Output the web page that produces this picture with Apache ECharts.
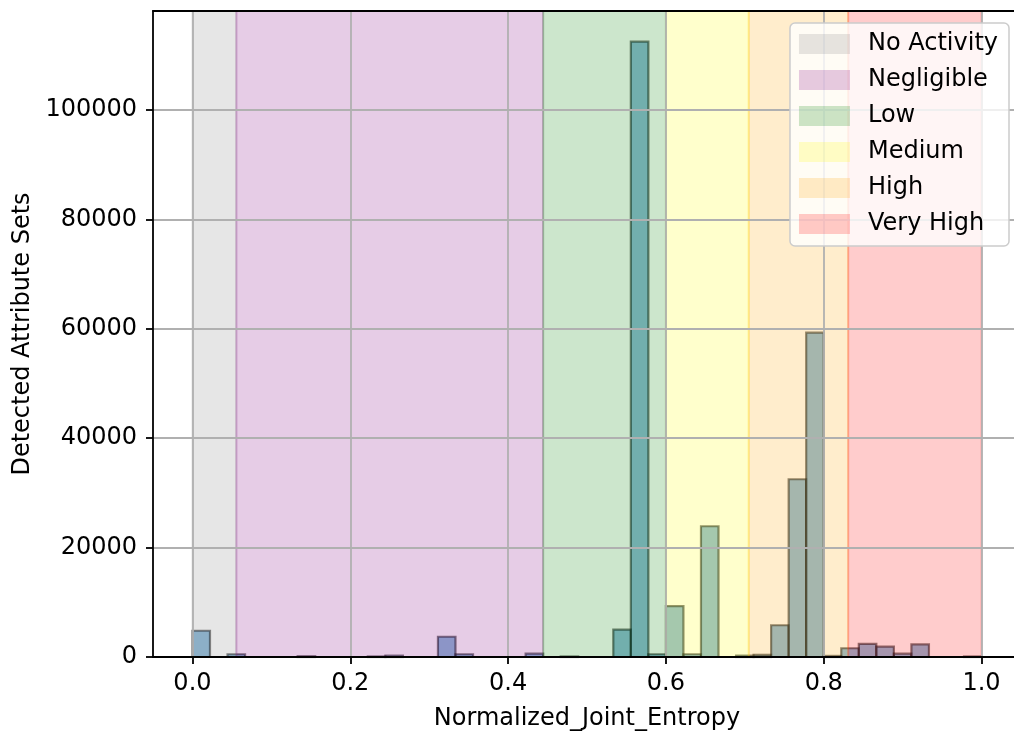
<!DOCTYPE html>
<html>
<head>
<meta charset="utf-8">
<script src="https://cdn.jsdelivr.net/npm/echarts@6/dist/echarts.min.js"></script>
<style>html,body{margin:0;padding:0;background:#fff}#c{width:1014px;height:732px}</style>
</head>
<body>
<div id="c"></div>
<script>
// ---- data ----
const binStart = 0;
const binEnd = 1;
const binCounts = [
  4800, 0, 500, 0, 0, 0, 150, 0, 0, 0,
  100, 250, 0, 0, 3700, 500, 0, 0, 0, 600,
  0, 100, 0, 0, 5000, 112500, 500, 9300, 500, 23900,
  0, 250, 400, 5800, 32500, 59300, 200, 1600, 2400, 1900,
  600, 2300, 0, 0, 100
];
const bandNames = ['No Activity', 'Negligible', 'Low', 'Medium', 'High', 'Very High'];
const bandStarts = [0.0, 0.0556, 0.4444, 0.6, 0.705, 0.831];
const bandEnds   = [0.0556, 0.4444, 0.6, 0.705, 0.831, 1.0];
const bandColors = ['rgba(128,128,128,0.2)', 'rgba(128,0,128,0.2)', 'rgba(0,128,0,0.2)',
                    'rgba(255,255,0,0.2)', 'rgba(255,165,0,0.2)', 'rgba(255,0,0,0.2)'];
const xTicks = [0.0, 0.2, 0.4, 0.6, 0.8, 1.0];
const yTicks = [0, 20000, 40000, 60000, 80000, 100000];
const xLabel = 'Normalized_Joint_Entropy';
const yLabel = 'Detected Attribute Sets';

// ---- build ----
const FONT = 'DejaVu Sans';
const FS = 24;
const nb = binCounts.length;
const w = (binEnd - binStart) / nb;
const histData = binCounts.map((c, i) => [binStart + i * w, binStart + (i + 1) * w, c]);

const series = [{
  type: 'custom',
  name: 'hist',
  z: 2,
  encode: { x: [0, 1], y: 2 },
  data: histData,
  renderItem: function (params, api) {
    const p0 = api.coord([api.value(0), api.value(2)]);
    const p1 = api.coord([api.value(1), 0]);
    return {
      type: 'rect',
      shape: { x: p0[0], y: p0[1], width: p1[0] - p0[0], height: p1[1] - p0[1] },
      style: { fill: 'rgba(31,119,180,0.5)', stroke: 'rgba(0,0,0,0.5)', lineWidth: 2.2 }
    };
  }
}];
bandNames.forEach((n, i) => {
  series.push({
    type: 'custom',
    name: n,
    z: 3,
    itemStyle: { color: bandColors[i] },
    encode: { x: [0, 1], y: 2 },
    data: [[bandStarts[i], bandEnds[i], 0]],
    renderItem: function (params, api) {
      const cs = params.coordSys;
      const p0 = api.coord([api.value(0), 0]);
      const p1 = api.coord([api.value(1), 0]);
      return {
        type: 'rect',
        shape: { x: p0[0], y: cs.y, width: p1[0] - p0[0], height: cs.height },
        style: { fill: bandColors[i], stroke: bandColors[i], lineWidth: 2 }
      };
    }
  });
});

const chart = echarts.init(document.getElementById('c'), null, { renderer: 'canvas' });
chart.setOption({
  animation: false,
  backgroundColor: '#ffffff',
  textStyle: { fontFamily: FONT },
  grid: { left: 153, width: 868, top: 11, bottom: 75, containLabel: false, outerBoundsMode: 'none' },
  legend: {
    data: bandNames,
    orient: 'vertical',
    right: 5,
    top: 23,
    z: 6,
    icon: 'rect',
    itemWidth: 51,
    itemHeight: 20,
    itemGap: 12,
    padding: [9, 11, 10, 9],
    backgroundColor: 'rgba(255,255,255,0.8)',
    borderColor: '#cccccc',
    borderWidth: 1.5,
    borderRadius: 5,
    selectedMode: false,
    textStyle: { fontFamily: FONT, fontSize: FS, color: '#000', lineHeight: 24, padding: [0, 0, 0, 13] }
  },
  xAxis: [{
    type: 'value',
    min: -0.05,
    max: 1.05,
    z: 4,
    name: xLabel,
    nameLocation: 'middle',
    nameGap: 50,
    nameTextStyle: { fontFamily: FONT, fontSize: FS, color: '#000' },
    axisLine: { show: true, onZero: false, lineStyle: { color: '#000', width: 1.8 } },
    axisTick: { show: true, length: 7, customValues: xTicks, lineStyle: { color: '#000', width: 1.8 } },
    axisLabel: { customValues: xTicks, margin: 15, fontFamily: FONT, fontSize: FS, color: '#000',
                 formatter: v => v.toFixed(1) },
    splitLine: { show: true, lineStyle: { color: '#b0b0b0', width: 1.8 } }
  }, {
    type: 'value',
    position: 'top',
    min: -0.05,
    max: 1.05,
    z: 4,
    axisLine: { show: true, onZero: false, lineStyle: { color: '#000', width: 1.8 } },
    axisTick: { show: false },
    axisLabel: { show: false },
    splitLine: { show: false }
  }],
  yAxis: {
    type: 'value',
    min: 0,
    max: 118100,
    z: 4,
    name: yLabel,
    nameLocation: 'middle',
    nameGap: 117,
    nameTextStyle: { fontFamily: FONT, fontSize: FS, color: '#000' },
    axisLine: { show: true, onZero: false, lineStyle: { color: '#000', width: 1.8 } },
    axisTick: { show: true, length: 7, customValues: yTicks, lineStyle: { color: '#000', width: 1.8 } },
    axisLabel: { customValues: yTicks, margin: 16, fontFamily: FONT, fontSize: FS, color: '#000',
                 formatter: v => String(v) },
    splitLine: { show: true, lineStyle: { color: '#b0b0b0', width: 1.8 } }
  },
  series: series
});
</script>
</body>
</html>
